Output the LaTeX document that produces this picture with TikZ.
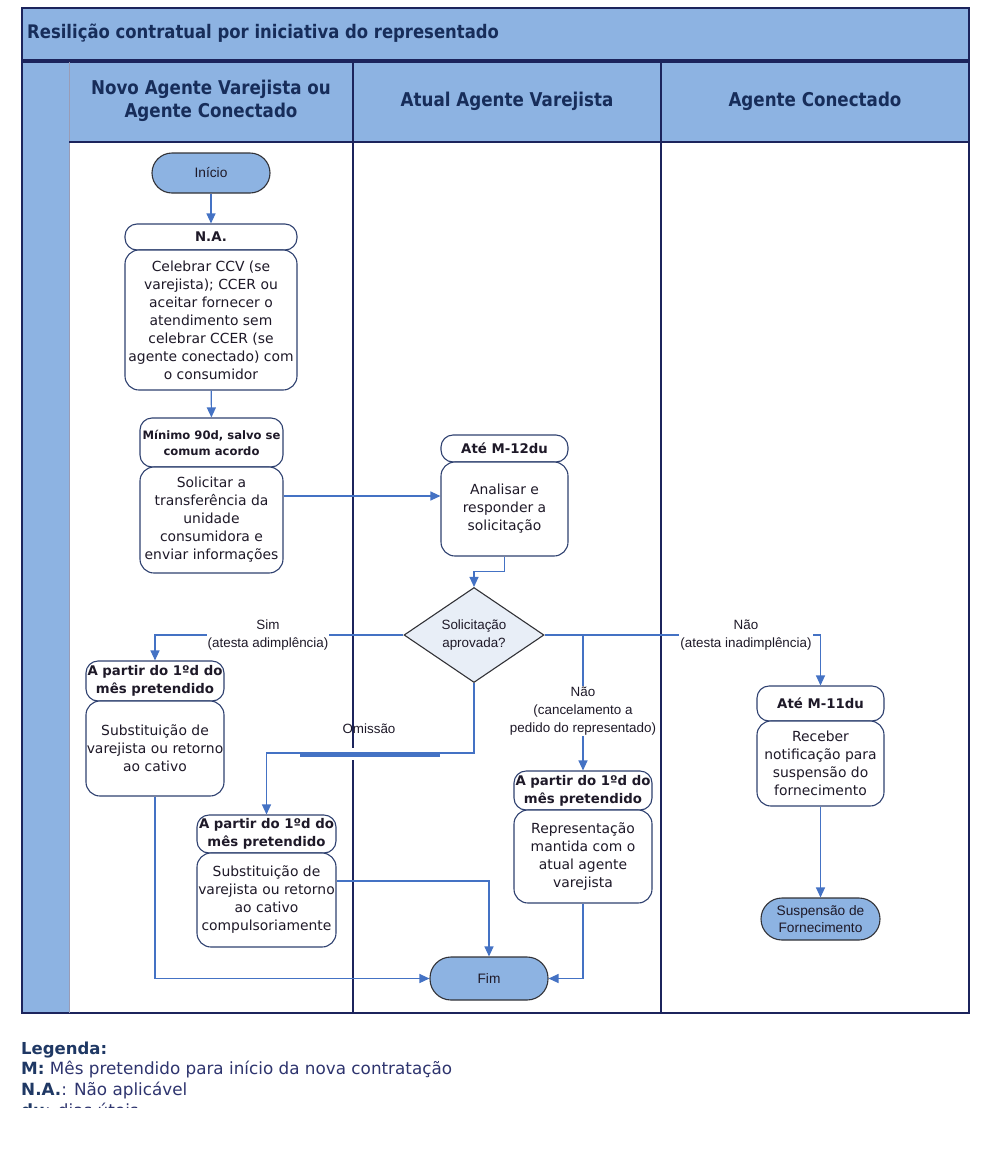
\documentclass[tikz,border=0pt]{standalone}
\usepackage{fontspec}
\setmainfont{DejaVu Sans}
\newfontfamily\hdfont{DejaVu Sans}[FakeStretch=0.88]
\newfontfamily\arf{Liberation Sans}
\usetikzlibrary{arrows.meta,shapes.geometric,calc}
\definecolor{laneblue}{RGB}{141,179,226}
\definecolor{lanenavy}{RGB}{28,36,92}
\definecolor{boxborder}{RGB}{47,65,112}
\definecolor{termborder}{RGB}{50,50,55}
\definecolor{diafill}{RGB}{232,238,247}
\definecolor{hdtext}{RGB}{23,45,90}
\definecolor{connblue}{RGB}{68,114,196}
\definecolor{txtdark}{RGB}{30,25,40}
\definecolor{legnavy}{RGB}{31,56,100}
\definecolor{legtext}{RGB}{46,52,110}
\begin{document}
\begin{tikzpicture}[x=1pt,y=-1pt,
  lane/.style={draw=lanenavy,line width=1.1pt},
  hbox/.style={draw=boxborder,line width=1.1pt,fill=white,rounded corners=12pt,inner sep=0pt,align=center,text=txtdark,font=\bfseries\fontsize{13.3}{18}\selectfont},
  bbox/.style={draw=boxborder,line width=1.1pt,fill=white,rounded corners=14pt,inner sep=0pt,align=center,text=txtdark,font=\fontsize{13.9}{18}\selectfont},
  term/.style={draw=termborder,line width=1.1pt,fill=laneblue,inner sep=0pt,align=center,text=txtdark,font=\arf\fontsize{13.7}{17}\selectfont},
  conn/.style={draw=connblue,line width=1.2pt,-{Triangle[length=10pt,width=9pt]}},
  flow/.style={draw=connblue,line width=1.2pt},
  lbl/.style={fill=white,inner sep=1pt,align=center,text=txtdark,font=\arf\fontsize{13.4}{18}\selectfont},
  lanehd/.style={align=center,text=hdtext,font=\hdfont\bfseries\fontsize{19}{23}\selectfont},
  legl/.style={anchor=base west,inner sep=0pt,text=legtext,font=\fontsize{16.8}{20}\selectfont}
]
\useasboundingbox (0,0) rectangle (987,1157);
% ---- swimlane frame ----
\fill[laneblue] (22,8) rectangle (969,60);
\draw[lane] (22,8) rectangle (969,60);
\fill[laneblue] (22,62) rectangle (969,142);
\fill[laneblue] (22,142) rectangle (69,1013);
\draw[lane] (22,62) rectangle (969,1013);
\draw[draw=lanenavy!45,line width=0.8pt] (69,62) -- (69,1013);
\draw[lane] (69,142) -- (969,142);
\draw[lane] (353,62) -- (353,748);
\draw[lane] (353,760) -- (353,1013);
\draw[lane] (661,62) -- (661,1013);
\node[anchor=west,inner sep=0pt,text=hdtext,font=\hdfont\bfseries\fontsize{18.7}{22}\selectfont] (title) at (27,33) {Resilição contratual por iniciativa do representado};
\node[lanehd] (lane1) at (211,100.5) {Novo Agente Varejista ou\\Agente Conectado};
\node[lanehd] (lane2) at (507,101) {Atual Agente Varejista};
\node[lanehd] (lane3) at (815,101) {Agente Conectado};
% ---- nodes ----
\node[term,minimum width=118pt,minimum height=40pt,rounded corners=20pt] (ini) at (211,173) {Início};
\node[hbox,minimum width=172pt,minimum height=26pt] (hNA) at (211,237) {N.A.};
\node[bbox,minimum width=172pt,minimum height=140pt] (bNA) at (211,320) {Celebrar CCV (se\\varejista); CCER ou\\aceitar fornecer o\\atendimento sem\\celebrar CCER (se\\agente conectado) com\\o consumidor};
\node[hbox,minimum width=143pt,minimum height=49pt,font=\bfseries\fontsize{11.6}{16}\selectfont] (hMin) at (211.5,442.5) {Mínimo 90d, salvo se\\comum acordo};
\node[bbox,minimum width=143pt,minimum height=106pt] (bSol) at (211.5,520) {Solicitar a\\transferência da\\unidade\\consumidora e\\enviar informações};
\node[hbox,minimum width=127pt,minimum height=27pt] (hM12) at (504.5,448.5) {Até M-12du};
\node[bbox,minimum width=127pt,minimum height=94pt] (bAnl) at (504.5,509) {Analisar e\\responder a\\solicitação};
\node[diamond,draw=termborder,line width=1.1pt,fill=diafill,minimum width=140pt,minimum height=95pt,aspect=1.47,inner sep=0pt,align=center,text=txtdark,font=\arf\fontsize{13.4}{18}\selectfont] (dia) at (474,635) {Solicitação\\aprovada?};
\node[hbox,minimum width=138pt,minimum height=40pt] (hApl) at (155,681) {A partir do 1ºd do\\mês pretendido};
\node[bbox,minimum width=138pt,minimum height=95pt] (bApl) at (155,748.5) {Substituição de\\varejista ou retorno\\ao cativo};
\node[hbox,minimum width=139pt,minimum height=38pt] (hApl2) at (266.5,834) {A partir do 1ºd do\\mês pretendido};
\node[bbox,minimum width=139pt,minimum height=94pt] (bApl2) at (266.5,900) {Substituição de\\varejista ou retorno\\ao cativo\\compulsoriamente};
\node[hbox,minimum width=138pt,minimum height=39pt] (hApc) at (583,790.5) {A partir do 1ºd do\\mês pretendido};
\node[bbox,minimum width=138pt,minimum height=93pt] (bApc) at (583,856.5) {Representação\\mantida com o\\atual agente\\varejista};
\node[hbox,minimum width=127pt,minimum height=35pt] (hM11) at (820.5,703.5) {Até M-11du};
\node[bbox,minimum width=127pt,minimum height=85pt] (bM11) at (820.5,763.5) {Receber\\notificação para\\suspensão do\\fornecimento};
\node[term,minimum width=119pt,minimum height=42pt,rounded corners=21pt] (susp) at (820.5,919) {Suspensão de\\Fornecimento};
\node[term,minimum width=118pt,minimum height=43pt,rounded corners=21pt] (fim) at (489,978.5) {Fim};
% ---- connectors ----
\draw[conn] (ini) -- (hNA);
\draw[conn] (bNA) -- (hMin);
\draw[conn] ([yshift=24pt]bSol.east) -- ([yshift=13pt]bAnl.west);
\draw[conn] (bAnl.south) -- ++(0,15) -| (dia.north);
\draw[conn] (dia.west) -| (hApl.north);
\draw[conn] (dia.east) -| (hM11.north);
\coordinate (br) at (583,635);
\draw[conn] (br) -- (hApc.north);
\draw[conn] (dia.south) -- ++(0,70) -| (hApl2.north);
\coordinate (jmpA) at (300,755.5);
\coordinate (jmpB) at (440,755.5);
\draw[flow,line width=2.4pt] (jmpA) -- (jmpB);
\draw[conn] (bM11) -- (susp);
\draw[conn] ([yshift=19pt]bApl2.east) -| (fim.north);
\draw[conn] (bApl.south) |- (fim.west);
\draw[conn] (bApc.south) |- (fim.east);
% ---- connector labels ----
\node[lbl] (lSim) at (268,635) {Sim\\(atesta adimplência)};
\node[lbl] (lNao) at (746,635) {Não\\(atesta inadimplência)};
\node[lbl] (lCan) at (583,711) {Não\\(cancelamento a\\pedido do representado)};
\node[lbl,fill=none] (lOm) at (369,729) {Omissão};
% ---- legend ----
\node[legl,text=legnavy,font=\bfseries\fontsize{16.5}{20}\selectfont] (leg) at (21,1054) {Legenda:};
\node[legl] (legM) at (21,1074) {\textcolor{legnavy}{\bfseries M:} Mês pretendido para início da nova contratação};
\node[legl] (legNA) at (21,1095) {\textcolor{legnavy}{\bfseries N.A.}: Não aplicável};
\begin{scope}
\clip (0,1020) rectangle (987,1107);
\node[legl] (legDU) at (21,1116) {\textcolor{legnavy}{\bfseries du}: dias úteis};
\end{scope}
\end{tikzpicture}
\end{document}
